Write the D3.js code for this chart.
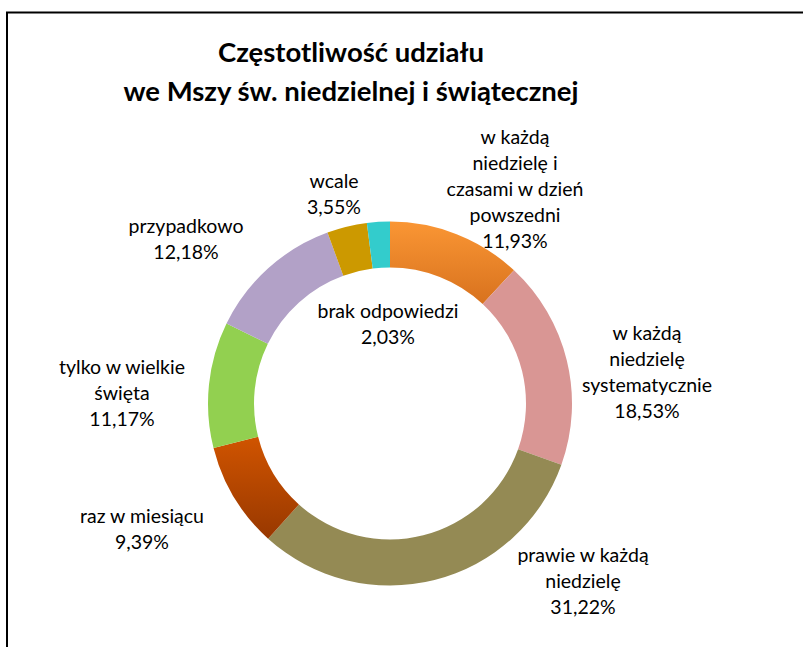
<!DOCTYPE html>
<html>
<head>
<meta charset="utf-8">
<script src="https://cdn.jsdelivr.net/npm/d3@7"></script>
<style>
  html, body { margin: 0; padding: 0; background: #fff; }
  #figure { width: 803px; height: 647px; }
  text { font-family: Lato, "Open Sans", sans-serif; fill: #000; }
</style>
</head>
<body>
<div id="figure"></div>
<script>
const categories = ["w każdą niedzielę i czasami w dzień powszedni", "w każdą niedzielę systematycznie",
                    "prawie w każdą niedzielę", "raz w miesiącu", "tylko w wielkie święta",
                    "przypadkowo", "wcale", "brak odpowiedzi"];
const values = [11.93, 18.53, 31.22, 9.39, 11.17, 12.18, 3.55, 2.03];
const labelLines = [["w każdą", "niedzielę i", "czasami w dzień", "powszedni"],
                    ["w każdą", "niedzielę", "systematycznie"],
                    ["prawie w każdą", "niedzielę"],
                    ["raz w miesiącu"],
                    ["tylko w wielkie", "święta"],
                    ["przypadkowo"],
                    ["wcale"],
                    ["brak odpowiedzi"]];
const titleLines = ["Częstotliwość udziału", "we Mszy św. niedzielnej i świątecznej"];

document.addEventListener("DOMContentLoaded", ()=>{
  const W = 803, H = 647;
  const cx = 390, cy = 403.5, outerR = 182, innerR = 136;
  const lineH = 26;

  // label centres were dragged by hand in the original, so they sit in a layout table
  const labelAt = [[515, 188], [647, 371], [583, 580], [142, 528],
                   [122, 392], [186, 238], [334, 193], [388, 323]];

  const colors = ["url(#gOrange)", "#D99694", "#948A54", "url(#gRust)",
                  "#92D050", "#B2A1C7", "#CC9900", "#33CCCC"];

  const svg = d3.select("#figure").append("svg")
    .attr("width", W).attr("height", H);

  const defs = svg.append("defs");
  [["gOrange", "#FA9634", "#D8721E"], ["gRust", "#D05400", "#983800"]].forEach(g => {
    const lg = defs.append("linearGradient").attr("id", g[0])
      .attr("x1", 0).attr("y1", 0).attr("x2", 0).attr("y2", 1);
    lg.append("stop").attr("offset", "0%").attr("stop-color", g[1]);
    lg.append("stop").attr("offset", "100%").attr("stop-color", g[2]);
  });

  // frame (right and bottom edges run off the picture)
  svg.append("path")
    .attr("d", `M7,${H + 5}V12.5H${W + 5}`)
    .attr("fill", "none").attr("stroke", "#000").attr("stroke-width", 2);

  // title
  svg.append("text")
    .attr("x", 351).attr("y", 62)
    .attr("text-anchor", "middle")
    .style("font-weight", "bold").style("font-size", "27.5px")
    .selectAll("tspan").data(titleLines).join("tspan")
      .attr("x", 351).attr("dy", (d, i) => i ? 39 : 0)
      .text(d => d);

  const pie = d3.pie().sort(null).value(d => d);
  const arc = d3.arc().innerRadius(innerR).outerRadius(outerR);

  const g = svg.append("g").attr("transform", `translate(${cx},${cy})`);
  g.selectAll("path").data(pie(values)).join("path")
    .attr("d", arc)
    .attr("fill", (d, i) => colors[i]);

  const fmt = v => d3.format(".2f")(v).replace(".", ",") + "%";

  const labels = svg.append("g").style("font-size", "19.5px").attr("text-anchor", "middle");
  values.forEach((v, i) => {
    const lines = labelLines[i].concat([fmt(v)]);
    const [lx, ly] = labelAt[i];
    const top = ly - (lines.length - 1) * lineH / 2;
    labels.append("text")
      .attr("x", lx).attr("y", top)
      .attr("dominant-baseline", "central")
      .selectAll("tspan").data(lines).join("tspan")
        .attr("x", lx).attr("y", (d, k) => top + k * lineH)
        .text(d => d);
  });
});
</script>
</body>
</html>
